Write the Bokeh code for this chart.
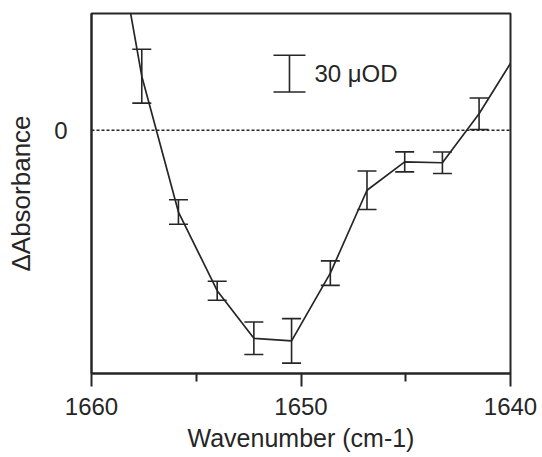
from bokeh.plotting import figure
from bokeh.models import (Range1d, FixedTicker, Span, Whisker, TeeHead,
                          ColumnDataSource, Label)
from bokeh.embed import file_html
from bokeh.resources import INLINE

# ---- data ----
# line trace (includes the two points just outside the frame that the trace runs to)
line_wavenumber = [1659.4, 1657.6, 1655.85, 1654.0, 1652.25, 1650.45, 1648.6,
                   1646.85, 1645.05, 1643.25, 1641.5, 1639.7]
line_dabs = [218, 44.2, -66.9, -131.3, -170.2, -172.3, -116.9,
             -49.1, -25.9, -26.6, 13.5, 63]

# points with error bars (µOD)
pt_wavenumber = [1657.6, 1655.85, 1654.0, 1652.25, 1650.45, 1648.6,
                 1646.85, 1645.05, 1643.25, 1641.5]
pt_dabs = [44.2, -66.9, -131.3, -170.2, -172.3, -116.9, -49.1, -25.9, -26.6, 13.5]
pt_err = [22, 10, 7.8, 13.3, 18.2, 10, 15.7, 8.2, 8.8, 12.9]

# scale bar: 30 µOD
scale_wavenumber = [1650.55]
scale_low = [31.3]
scale_high = [61.3]
scale_text = "30 \u03bcOD"

x_ticks = [1660, 1650, 1640]
x_minor = [1655, 1645]
y_ticks = [0]

INK = "#262626"
FONT = "Liberation Sans"

p = figure(width=542, height=457, output_backend="svg", toolbar_location=None,
           x_range=Range1d(1660, 1640), y_range=Range1d(-199, 95.5),
           min_border_left=91, min_border_right=32, min_border_top=13,
           min_border_bottom=84)
p.background_fill_color = "white"
p.border_fill_color = "white"
p.outline_line_color = INK
p.outline_line_width = 2
p.xgrid.visible = False
p.ygrid.visible = False

# axes
xa = p.xaxis[0]
xa.ticker = FixedTicker(ticks=x_ticks, minor_ticks=x_minor)
xa.axis_label = "Wavenumber (cm-1)"
xa.axis_line_color = INK
xa.axis_line_width = 2
xa.major_tick_line_color = INK
xa.major_tick_line_width = 2
xa.major_tick_out = 13
xa.major_tick_in = 0
xa.minor_tick_line_color = INK
xa.minor_tick_line_width = 2
xa.minor_tick_out = 8
xa.minor_tick_in = 0
xa.major_label_text_font = FONT
xa.major_label_text_font_size = "24px"
xa.major_label_text_color = INK
xa.major_label_standoff = 11
xa.axis_label_text_font = FONT
xa.axis_label_text_font_size = "25px"
xa.axis_label_text_font_style = "normal"
xa.axis_label_text_color = INK
xa.axis_label_standoff = 6

ya = p.yaxis[0]
ya.ticker = FixedTicker(ticks=y_ticks)
ya.axis_label = "\u0394Absorbance"
ya.axis_line_color = INK
ya.axis_line_width = 2
ya.major_tick_out = 0
ya.major_tick_in = 0
ya.minor_tick_line_color = None
ya.major_label_text_font = FONT
ya.major_label_text_font_size = "24px"
ya.major_label_text_color = INK
ya.major_label_standoff = 24
ya.axis_label_text_font = FONT
ya.axis_label_text_font_size = "26px"
ya.axis_label_text_font_style = "normal"
ya.axis_label_text_color = INK
ya.axis_label_standoff = 15

# zero line
p.add_layout(Span(location=0, dimension="width", line_color=INK,
                  line_width=1.5, line_dash="3 2"))

# trace
p.line(line_wavenumber, line_dabs, line_color=INK, line_width=1.7)

# error bars
lower = [v - e for v, e in zip(pt_dabs, pt_err)]
upper = [v + e for v, e in zip(pt_dabs, pt_err)]
src = ColumnDataSource(dict(x=pt_wavenumber, lower=lower, upper=upper))
p.add_layout(Whisker(source=src, base="x", lower="lower", upper="upper",
                     line_color=INK, line_width=1.6,
                     lower_head=TeeHead(size=19, line_color=INK, line_width=1.6),
                     upper_head=TeeHead(size=19, line_color=INK, line_width=1.6)))

# scale bar
ssrc = ColumnDataSource(dict(x=scale_wavenumber, lower=scale_low, upper=scale_high))
p.add_layout(Whisker(source=ssrc, base="x", lower="lower", upper="upper",
                     line_color=INK, line_width=1.6,
                     lower_head=TeeHead(size=32, line_color=INK, line_width=1.6),
                     upper_head=TeeHead(size=32, line_color=INK, line_width=1.6)))
p.add_layout(Label(x=1649.36, y=(scale_low[0] + scale_high[0]) / 2, text=scale_text,
                   text_font=FONT, text_font_size="24px", text_color=INK,
                   text_baseline="middle", text_align="left"))

open("out.html", "w").write(file_html(p, INLINE))
